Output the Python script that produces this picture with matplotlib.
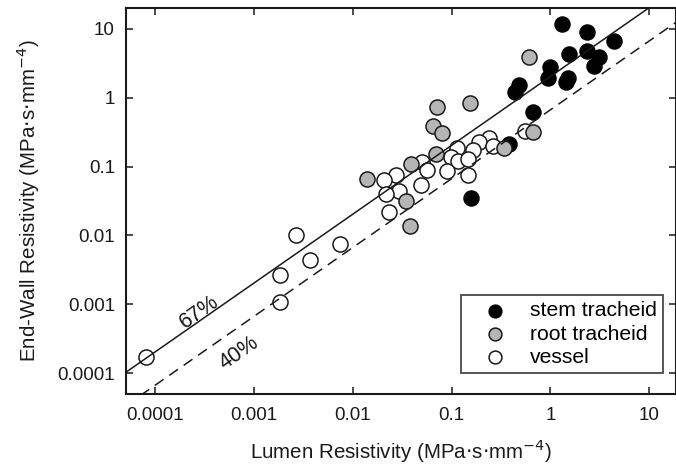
import numpy as np
import matplotlib
matplotlib.use("Agg")
import matplotlib.pyplot as plt
from matplotlib.ticker import FixedLocator, NullLocator

plt.rcParams['font.family'] = ['Liberation Sans', 'DejaVu Sans']

# stem tracheid (black)
stem_x = [1.30, 2.36, 4.42, 1.54, 2.36, 3.08, 2.73, 1.00, 0.95, 1.50, 1.45,
          0.483, 0.434, 0.67, 0.383, 0.157]
stem_y = [11.6, 9.04, 6.7, 4.29, 4.79, 3.83, 2.90, 2.81, 1.94, 1.94, 1.67,
          1.53, 1.21, 0.62, 0.213, 0.0353]

# root tracheid (grey)
root_x = [0.605, 0.152, 0.071, 0.0647, 0.0804, 0.659, 0.338, 0.0698, 0.0385,
          0.0138, 0.0347, 0.0381]
root_y = [3.95, 0.832, 0.743, 0.389, 0.311, 0.321, 0.183, 0.154, 0.109,
          0.066, 0.0316, 0.0137]

# vessel (open)
vessel_x = [0.237, 0.188, 0.264, 0.113, 0.166, 0.099, 0.117, 0.146, 0.0498,
            0.0566, 0.0895, 0.146, 0.0275, 0.0209, 0.0492, 0.0292, 0.0215,
            0.0233, 0.547, 0.00736, 0.00267, 0.00371, 0.00184, 0.00184, 0.000082]
vessel_y = [0.258, 0.228, 0.199, 0.186, 0.171, 0.136, 0.120, 0.127, 0.117,
            0.0893, 0.0849, 0.0743, 0.0755, 0.0628, 0.0541, 0.0442, 0.040,
            0.0221, 0.333, 0.00762, 0.0100, 0.00439, 0.00266, 0.00108, 0.000173]

# end-wall fraction lines: Rw = ratio * Rl
ratio_67 = 0.67 / 0.33
ratio_40 = 0.40 / 0.60

ticks = [0.0001, 0.001, 0.01, 0.1, 1, 10]
tick_labels = ['0.0001', '0.001', '0.01', '0.1', '1', '10']

xlim = (5.1e-5, 18.6)
ylim = (5.0e-5, 20.0)

fig = plt.figure(figsize=(6.76, 4.67), dpi=100)
ax = fig.add_axes([126 / 676, 1 - 394 / 467, 550 / 676, 386 / 467])

dark = '#1a1a1a'
ax.scatter(stem_x, stem_y, s=118, c='black', edgecolors='black',
           linewidths=1.0, zorder=2, label='stem tracheid')
ax.scatter(root_x, root_y, s=118, c='#b5b5b5', edgecolors=dark,
           linewidths=1.1, zorder=3, label='root tracheid')
ax.scatter(vessel_x, vessel_y, s=118, c='white', edgecolors=dark,
           linewidths=1.1, zorder=2, label='vessel')

xl = np.array(xlim)
ax.plot(xl, ratio_67 * xl, color=dark, lw=1.1, zorder=4)
ax.plot(xl, ratio_40 * xl, color=dark, lw=1.1, dashes=(7, 4.5), zorder=4)

ax.text(2.79e-4, 7.8e-4, '67%', fontsize=15.5, rotation=35,
        ha='center', va='center', color=dark)
ax.text(7.13e-4, 1.93e-4, '40%', fontsize=15.5, rotation=35,
        ha='center', va='center', color=dark)

ax.set_xscale('log')
ax.set_yscale('log')
ax.set_xlim(xlim)
ax.set_ylim(ylim)

ax.xaxis.set_major_locator(FixedLocator(ticks))
ax.yaxis.set_major_locator(FixedLocator(ticks))
ax.xaxis.set_minor_locator(NullLocator())
ax.yaxis.set_minor_locator(NullLocator())
ax.set_xticklabels(tick_labels)
ax.set_yticklabels(tick_labels)
ax.tick_params(which='major', direction='in', length=5, width=1.1,
               top=True, right=True, labelsize=13.5, colors=dark)
ax.tick_params(axis='x', pad=9)
ax.tick_params(axis='y', pad=8)

for sp in ax.spines.values():
    sp.set_linewidth(1.5)
    sp.set_color(dark)

ax.set_xlabel('Lumen Resistivity (MPa$\\cdot$s$\\cdot$mm$^{-4}$)', fontsize=14.8,
              color=dark, labelpad=10)
ax.set_ylabel('End-Wall Resistivity (MPa$\\cdot$s$\\cdot$mm$^{-4}$)', fontsize=14.8,
              color=dark, labelpad=11)

leg = ax.legend(loc='lower right', bbox_to_anchor=(0.976, 0.054),
                borderaxespad=0, fancybox=False, fontsize=15.2,
                handlelength=2.6, handletextpad=0.35, labelspacing=0.2,
                borderpad=0.3, scatterpoints=1, markerscale=0.85)
leg.get_frame().set_edgecolor(dark)
leg.get_frame().set_linewidth(1.3)

fig.savefig('out.png', dpi=100)
